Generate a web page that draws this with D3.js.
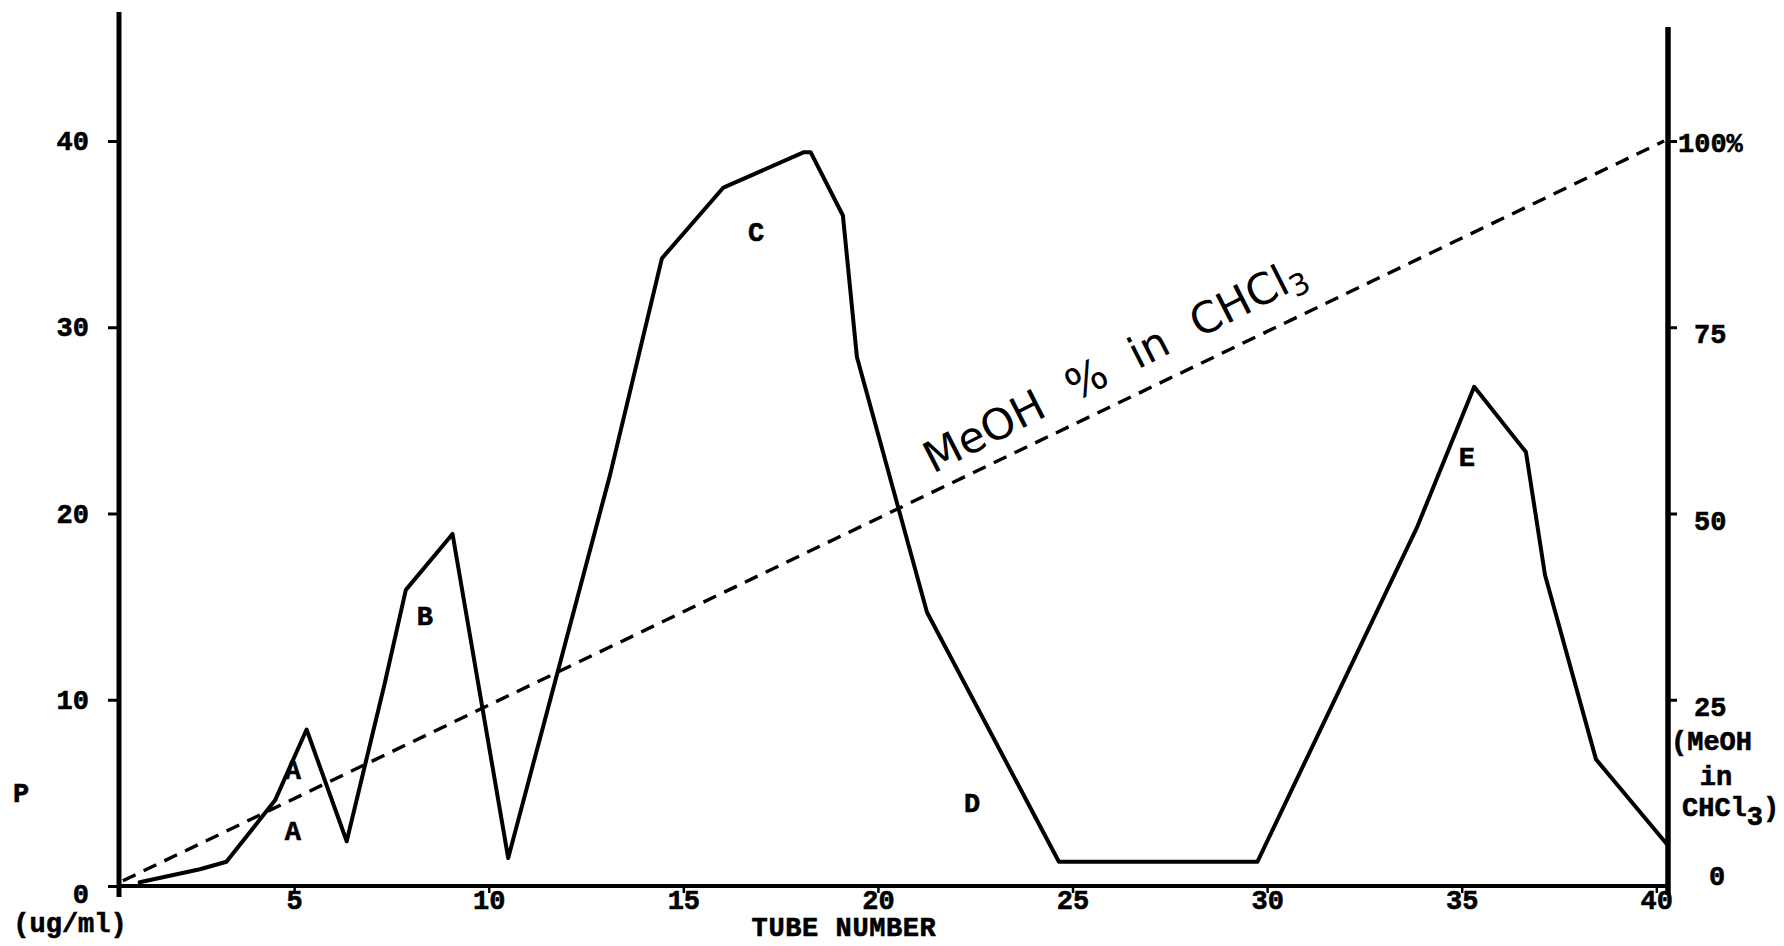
<!DOCTYPE html>
<html>
<head>
<meta charset="utf-8">
<script src="https://cdn.jsdelivr.net/npm/d3@7"></script>
<style>
  html, body { margin: 0; padding: 0; background: #fff; }
  svg { display: block; }
  .mono { font-family: "Liberation Mono", "DejaVu Sans Mono", monospace; font-weight: bold; font-size: 27px; fill: #000; stroke: #000; stroke-width: 0.6px; }
</style>
</head>
<body>
<svg id="chart" width="1784" height="946"></svg>
<script>
// ---------------- data ----------------
const tubeTicks = [5, 10, 15, 20, 25, 30, 35, 40];
const pTicks = [0, 10, 20, 30, 40];
const meohTicks = [0, 25, 50, 75, 100];
const meohTickLabels = ["0", "25", "50", "75", "100%"];

// P concentration (ug/ml) vs tube number (solid line)
const tubes   = [1.03, 2.58, 3.26, 4.51, 5.32, 6.35, 7.33, 7.87, 9.07, 10.5, 13.12, 14.45, 16.03, 18.1, 18.27, 19.1, 19.46, 21.26, 24.65, 29.75, 33.86, 35.32, 36.65, 37.14, 38.45, 40.29];
const pValues = [0.2,  0.9,  1.3,  4.6,  8.4,  2.4,  10.9, 15.9, 18.9, 1.5,  22.1,  33.7,  37.5,  39.4, 39.4,  36.0, 28.4,  14.7,  1.3,   1.3,   19.3,  26.8,  23.3,  16.7,  6.8,   2.2];

// MeOH % in CHCl3 gradient (dashed line)
const meohTubes  = [0.6, 40.2];
const meohValues = [0.7, 100];

// peak annotations
const peakNames  = ["A", "A", "B", "C", "D", "E"];
const peakTubes  = [4.97, 4.97, 8.36, 16.87, 22.42, 35.13];
const peakValues = [6.1, 2.85, 14.4, 35.0, 4.35, 22.9];

// ---------------- drawing ----------------
const svg = d3.select("#chart");
svg.append("rect").attr("width", 1784).attr("height", 946).attr("fill", "#fff");

const x = d3.scaleLinear().domain([0.5, 40.3]).range([119, 1668]);
const y = d3.scaleLinear().domain([0, 40]).range([886, 141]);
const y2 = d3.scaleLinear().domain([0, 100]).range([886, 141]);

// axis lines (hand-drawn frame)
const xL = x.range()[0], xR = x.range()[1];
svg.append("line").attr("x1", xL).attr("x2", xL).attr("y1", 12).attr("y2", 897)
  .attr("stroke", "#000").attr("stroke-width", 5);
svg.append("line").attr("x1", xR).attr("x2", xR).attr("y1", 27).attr("y2", 895)
  .attr("stroke", "#000").attr("stroke-width", 5.5);
svg.append("line").attr("x1", xL).attr("x2", xR).attr("y1", y(0)).attr("y2", y(0))
  .attr("stroke", "#000").attr("stroke-width", 4);

// left axis
const gL = svg.append("g").attr("transform", `translate(${xL},0)`)
  .call(d3.axisLeft(y).tickValues(pTicks).tickSize(11).tickPadding(19).tickFormat(d3.format("d")));
gL.select(".domain").remove();
gL.selectAll(".tick line").attr("stroke", "#000").attr("stroke-width", 3);
gL.selectAll(".tick text").attr("class", "mono").attr("font-family", null).attr("font-size", null)
  .attr("y", d => d === 0 ? 8 : 0);

// bottom axis
const gB = svg.append("g").attr("transform", `translate(0,${y(0)})`)
  .call(d3.axisBottom(x).tickValues(tubeTicks).tickSize(7).tickPadding(-3).tickFormat(d3.format("d")));
gB.select(".domain").remove();
gB.selectAll(".tick line").attr("stroke", "#000").attr("stroke-width", 2.5);
gB.selectAll(".tick text").attr("class", "mono").attr("font-family", null).attr("font-size", null);

// right axis
const gR = svg.append("g").attr("transform", `translate(${xR},0)`)
  .call(d3.axisRight(y2).tickValues(meohTicks).tickSize(9).tickPadding(17)
    .tickFormat(d => meohTickLabels[meohTicks.indexOf(d)]));
gR.select(".domain").remove();
gR.selectAll(".tick line").attr("stroke", "#000").attr("stroke-width", 3)
  .attr("opacity", d => d === 0 ? 0 : 1);
gR.selectAll(".tick text").attr("class", "mono").attr("font-family", null).attr("font-size", null)
  .attr("x", d => d === 100 ? 10 : (d === 0 ? 41 : 26))
  .attr("y", d => d === 100 ? 2 : (d === 0 ? -10 : 7));

// axis titles
svg.append("text").attr("class", "mono").attr("x", 21).attr("y", 795)
  .attr("text-anchor", "middle").attr("dominant-baseline", "central").text("P");
svg.append("text").attr("class", "mono").attr("x", 70).attr("y", 925)
  .attr("text-anchor", "middle").attr("dominant-baseline", "central").text("(ug/ml)");
svg.append("text").attr("class", "mono").attr("x", 844).attr("y", 929)
  .attr("text-anchor", "middle").attr("dominant-baseline", "central")
  .attr("font-size", "26px").attr("letter-spacing", "0.6px")
  .text("TUBE NUMBER");

const rt = svg.append("g");
rt.append("text").attr("class", "mono").attr("x", 1671).attr("y", 743)
  .attr("dominant-baseline", "central").text("(MeOH");
rt.append("text").attr("class", "mono").attr("x", 1716).attr("y", 778)
  .attr("text-anchor", "middle").attr("dominant-baseline", "central").text("in");
const ch = rt.append("text").attr("class", "mono").attr("x", 1682).attr("y", 809)
  .attr("dominant-baseline", "central");
ch.append("tspan").text("CHCl");
ch.append("tspan").attr("dy", 9).text("3");
ch.append("tspan").attr("dy", -9).text(")");

// MeOH gradient dashed line
const meohData = meohTubes.map((t, i) => [t, meohValues[i]]);
svg.append("path")
  .attr("d", d3.line().x(d => x(d[0])).y(d => y2(d[1]))(meohData))
  .attr("fill", "none").attr("stroke", "#000").attr("stroke-width", 3.4)
  .attr("stroke-dasharray", "14,9");

// P solid line
const pData = tubes.map((t, i) => [t, pValues[i]]);
svg.append("path")
  .attr("d", d3.line().x(d => x(d[0])).y(d => y(d[1]))(pData))
  .attr("fill", "none").attr("stroke", "#000").attr("stroke-width", 4)
  .attr("stroke-linejoin", "round").attr("stroke-linecap", "round");

// peak labels
svg.append("g").selectAll("text").data(peakNames).join("text")
  .attr("class", "mono")
  .attr("x", (d, i) => x(peakTubes[i]))
  .attr("y", (d, i) => y(peakValues[i]))
  .attr("text-anchor", "middle").attr("dominant-baseline", "central")
  .attr("font-size", "26px")
  .text(d => d);

// handwritten label along the gradient line
const hw = svg.append("text")
  .attr("transform", "translate(933,474) rotate(-27)")
  .attr("font-family", "'DejaVu Sans', sans-serif")
  .attr("font-size", "43px")
  .attr("word-spacing", "16px")
  .attr("fill", "#000");
hw.append("tspan").text("MeOH % in CHCl");
hw.append("tspan").attr("font-size", "30px").attr("dy", 8).text("3");
</script>
</body>
</html>
